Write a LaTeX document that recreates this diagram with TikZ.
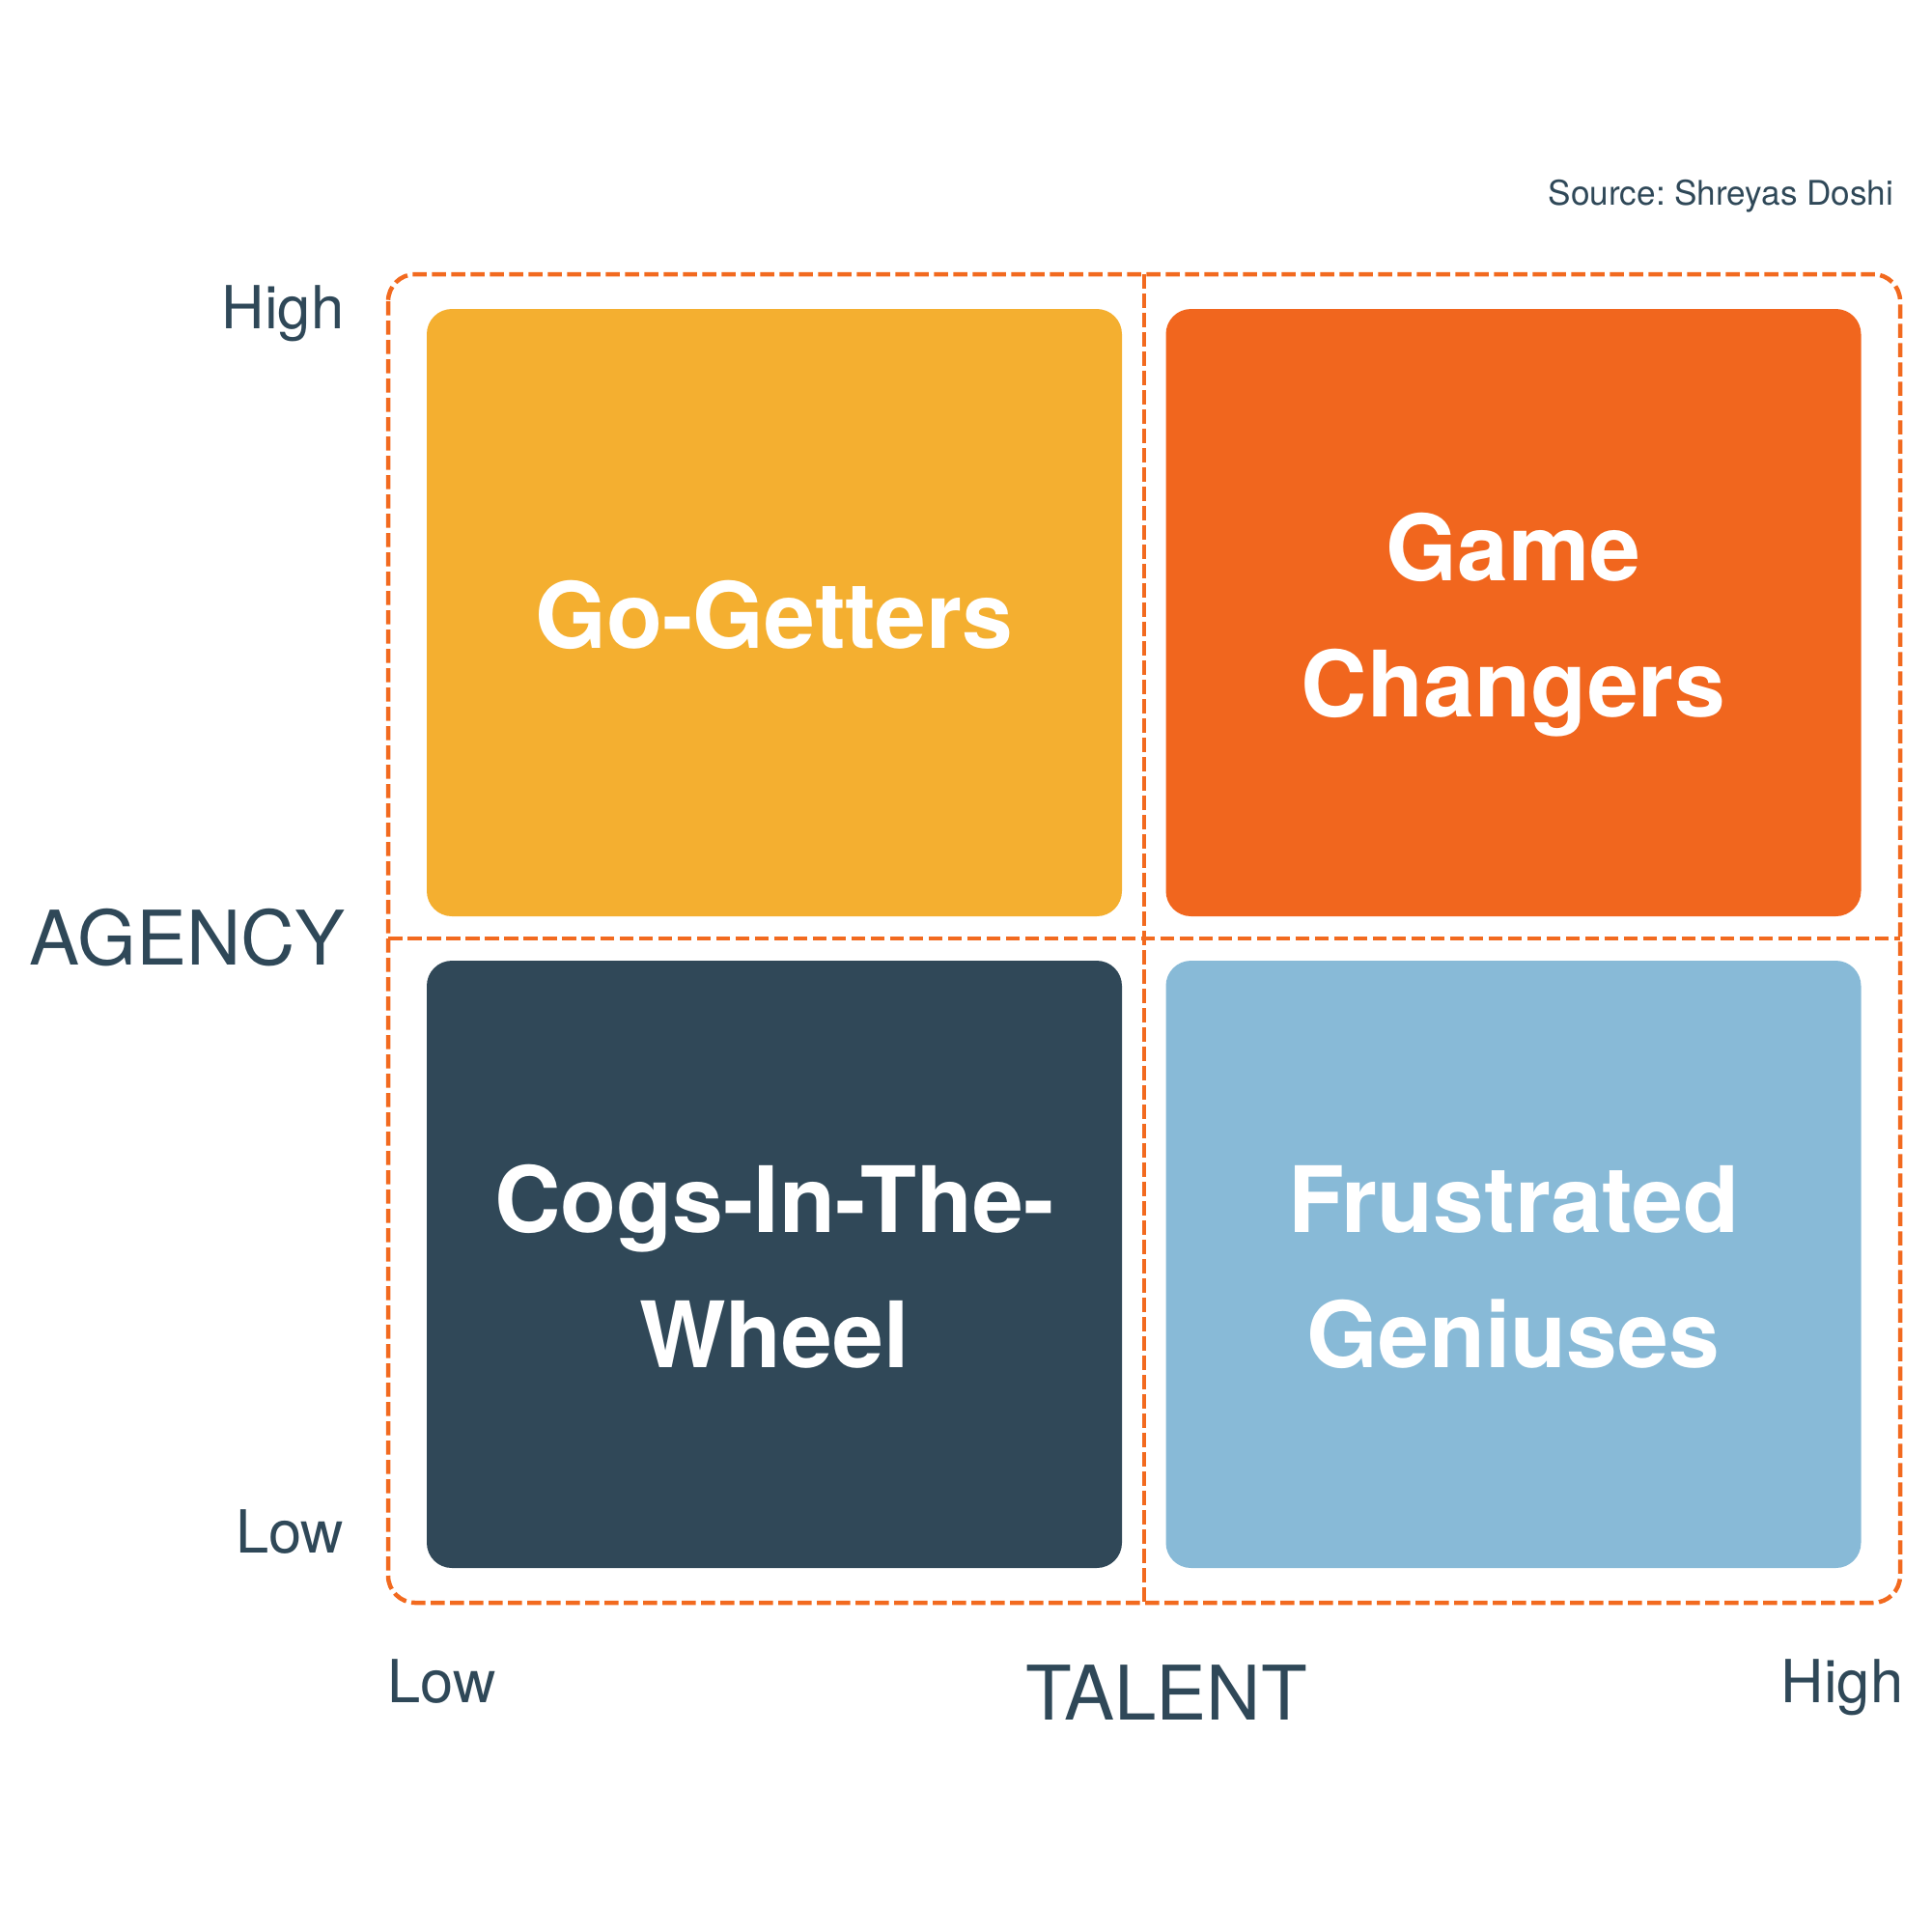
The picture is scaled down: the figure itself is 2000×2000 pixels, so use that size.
\documentclass[tikz,border=0pt]{standalone}
\usepackage{fontspec}
\setmainfont{TeX Gyre Heros}
\frenchspacing
\definecolor{goget}{HTML}{F4AF30}
\definecolor{gamech}{HTML}{F1661E}
\definecolor{cogs}{HTML}{304858}
\definecolor{frust}{HTML}{88BAD7}
\definecolor{ink}{HTML}{2F4858}
\definecolor{dashor}{HTML}{F26A1F}
\tikzset{
  quad/.style={rectangle, rounded corners=2.6mm, minimum width=72mm, minimum height=62.9mm, inner sep=0pt, draw=none},
  qlabel/.style={anchor=base, inner sep=0pt, text=white, font=\fontsize{27}{31}\selectfont\bfseries},
  axlabel/.style={inner sep=0pt, text=ink, font=\fontsize{22.2}{26}\selectfont},
  ticklabel/.style={inner sep=0pt, text=ink, font=\fontsize{17.5}{21}\selectfont},
  grid/.style={draw=dashor, line width=0.45mm, dash pattern=on 1.45mm off 0.55mm}
}
\begin{document}
\begin{tikzpicture}[x=0.1mm,y=-0.1mm]
\useasboundingbox (0,0) rectangle (2000,2000);
% quadrant boxes
\node[quad, fill=goget] (q1) at (802,634.5) {};
\node[quad, fill=gamech] (q2) at (1567.5,634.5) {};
\node[quad, fill=cogs] (q3) at (802,1309.5) {};
\node[quad, fill=frust] (q4) at (1567.5,1309.5) {};
% dashed frame and dividers
\draw[grid, rounded corners=2.8mm] (402,284) rectangle (1968,1660);
\coordinate (vt) at (1185,284);
\coordinate (vb) at (1185,1660);
\coordinate (hl) at (402,972);
\coordinate (hr) at (1968,972);
\draw[grid] (vt) -- (vb);
\draw[grid] (hl) -- (hr);
% quadrant labels
\node[qlabel] (l1) at (802,671) {Go-Getters};
\node[qlabel] (l2a) at (1567.5,601) {Game};
\node[qlabel] (l2b) at (1567.5,742) {Changers};
\node[qlabel] (l3a) at (802,1276) {Cogs-In-The-};
\node[qlabel] (l3b) at (802,1416) {Wheel};
\node[qlabel] (l4a) at (1567.5,1276) {Frustrated};
\node[qlabel] (l4b) at (1567.5,1416) {Geniuses};
% axes
\node[axlabel, anchor=base east] (agency) at (358,999) {AGENCY};
\node[axlabel, anchor=base] (talent) at (1208,1781) {TALENT};
\node[ticklabel, anchor=base east] (yhigh) at (357,340) {High};
\node[ticklabel, anchor=base east] (ylow) at (357,1608) {Low};
\node[ticklabel, anchor=base west] (xlow) at (401,1763) {Low};
\node[ticklabel, anchor=base east] (xhigh) at (1972,1763) {High};
\node[inner sep=0pt, text=ink, anchor=base east, font=\fontsize{10}{12}\selectfont] (src) at (1962,212) {Source: Shreyas Doshi};
\end{tikzpicture}
\end{document}
